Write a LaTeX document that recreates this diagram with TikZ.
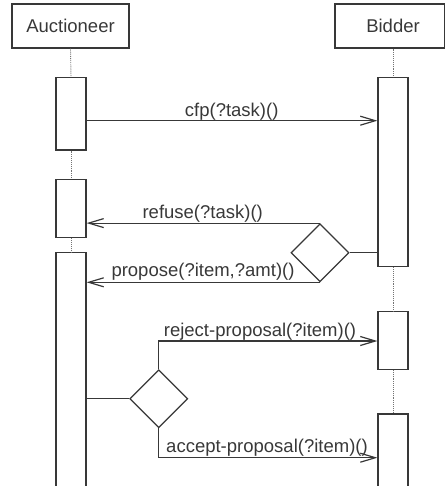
\documentclass[tikz,border=0pt]{standalone}
\usepackage{fontspec}
\setmainfont{Liberation Sans}
\usetikzlibrary{arrows.meta,shapes.geometric}
\definecolor{ink}{HTML}{383838}
\begin{document}
\begin{tikzpicture}[x=1pt,y=-1pt,
  ink/.style={draw=ink, line width=1.2pt},
  head/.style={ink, rectangle, minimum height=44pt, inner sep=0pt, font=\fontsize{18.5}{22}\selectfont, text=ink},
  bar/.style={ink, rectangle, fill=white, minimum width=30pt, inner sep=0pt},
  choice/.style={ink, diamond, fill=white, minimum width=58pt, minimum height=58pt, inner sep=0pt},
  life/.style={draw=ink!70, line width=0.9pt, densely dotted},
  msg/.style={ink, -{Straight Barb[length=15pt,width=9pt,line width=1.2pt]}},
  plain/.style={ink},
  lbl/.style={font=\fontsize{18.5}{22}\selectfont, text=ink, inner sep=0pt, anchor=base}
]
\useasboundingbox (0,0) rectangle (445,486);
\clip (0,0) rectangle (445,486);
% heads
\node[head, minimum width=117pt] (auc) at (70.5,26) {Auctioneer};
\node[head, minimum width=109.5pt, label={[font=\fontsize{18.5}{22}\selectfont, text=ink, xshift=3.25pt]center:Bidder}] (bid) at (389.75,26) {};
% activation bars
\node[bar, minimum height=72.3pt] (a1) at (71,113.85) {};
\node[bar, minimum height=58.4pt] (a2) at (71,208.5) {};
\node[bar, minimum height=240pt] (a3) at (71,372.7) {};
\node[bar, minimum height=189pt] (b1) at (393,172.2) {};
\node[bar, minimum height=57.6pt] (b2) at (393,340.5) {};
\node[bar, minimum height=80pt] (b3) at (393,454) {};
% lifelines
\draw[life] (auc.south) -- (a1.north);
\draw[life] (a1.south) -- (a2.north);
\draw[life] (a2.south) -- (a3.north);
\draw[life] (bid.south -| b1.north) -- (b1.north);
\draw[life] (b1.south) -- (b2.north);
\draw[life] (b2.south) -- (b3.north);
% cfp
\coordinate (cfpy) at (0,120.7);
\draw[msg] (a1.east |- cfpy) -- (b1.west |- cfpy);
\node[lbl] (lcfp) at (231.7,117) {cfp(?task)()};
% diamond 1
\node[choice] (d1) at (320,252.7) {};
\draw[plain] (b1.west |- d1.east) -- (d1.east);
\draw[msg] (d1.north) -- (a2.east |- d1.north);
\draw[msg] (d1.south) -- (a3.east |- d1.south);
\node[lbl] (lref) at (202.7,218.5) {refuse(?task)()};
\node[lbl] (lpro) at (203,276.5) {propose(?item,?amt)()};
% diamond 2
\node[choice] (d2) at (158.7,398.7) {};
\draw[plain] (a3.east |- d2.west) -- (d2.west);
\coordinate (rejy) at (0,341);
\coordinate (accy) at (0,457.7);
\draw[msg] (d2.north) -- (d2.north |- rejy) -- (b2.west |- rejy);
\draw[msg] (d2.south) -- (d2.south |- accy) -- (b3.west |- accy);
\node[lbl] (lrej) at (260,336) {reject-proposal(?item)()};
\node[lbl] (lacc) at (267,452) {accept-proposal(?item)()};
\end{tikzpicture}
\end{document}
